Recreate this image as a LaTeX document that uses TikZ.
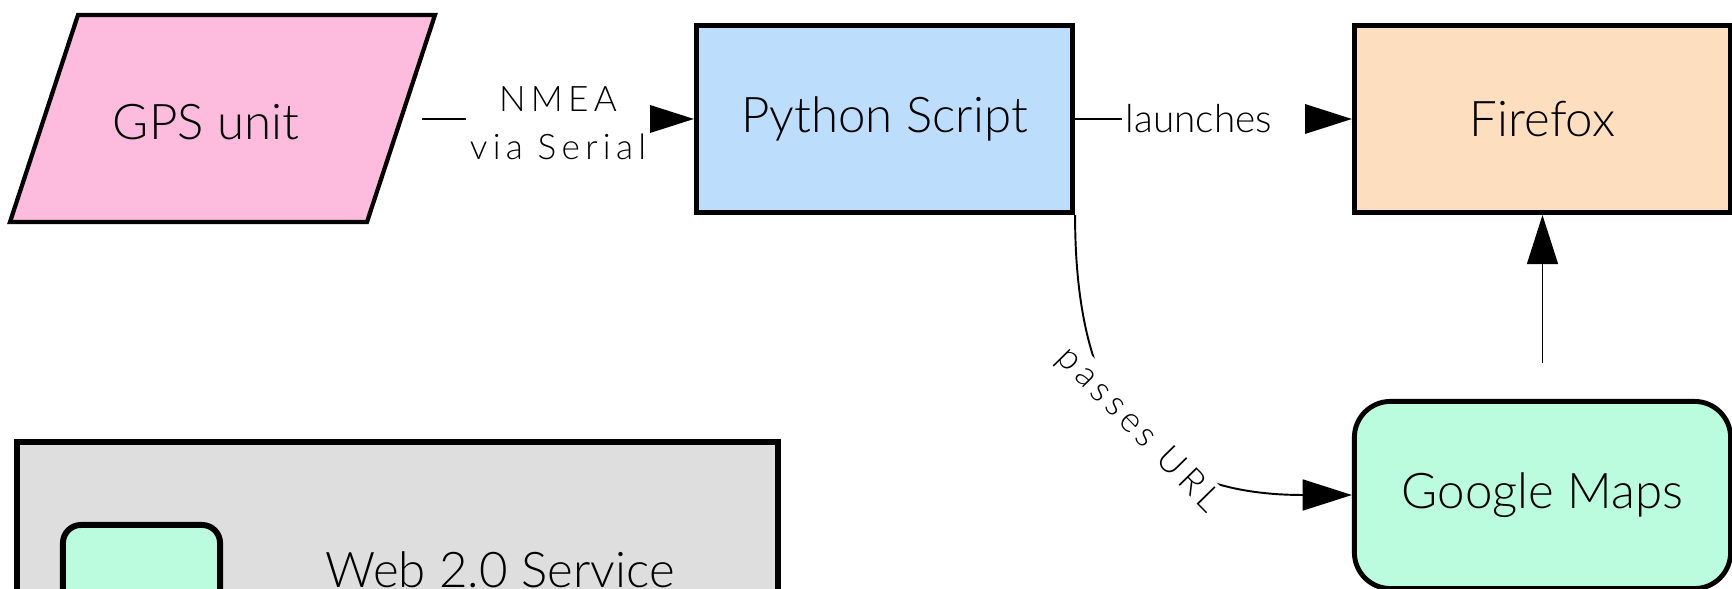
\documentclass[tikz,border=0pt]{standalone}
\usepackage{fontspec}
\setmainfont{Lato}[UprightFont=* Light]
\usetikzlibrary{arrows.meta}
\definecolor{gpspink}{RGB}{253,187,221}
\definecolor{pyblue}{RGB}{188,222,252}
\definecolor{foxpeach}{RGB}{253,222,190}
\definecolor{mapmint}{RGB}{188,252,222}
\definecolor{leggray}{RGB}{222,222,222}
\newcommand{\lblfont}{\fontsize{10}{13.7}\selectfont\addfontfeatures{LetterSpace=15}}

\begin{document}
\begin{tikzpicture}[x=0.01cm,y=0.01cm,font=\fontsize{14}{17}\selectfont,
  box/.style={draw,line width=1.4pt,minimum width=3.76cm,minimum height=1.87cm},
  flow/.style={line width=0.55pt,-{Triangle[length=14pt,width=8.8pt]}},
  lab/.style={fill=white,inner sep=1pt,font=\lblfont}]

\useasboundingbox (0,0) rectangle (1732,-589);
\clip (0,0) rectangle (1732,-589);

% Flusso
\begin{scope}
\draw[line width=1.2pt,fill=gpspink] (10,-222) -- (78,-15) -- (435,-15) -- (367,-222) -- cycle;
\node (gps) at (206,-122) {GPS unit};
\coordinate (gpsout) at (422,-119);
\node[box,fill=pyblue] (python) at (884.5,-119) {Python Script};
\node[box,fill=foxpeach] (firefox) at (1542.5,-119) {Firefox};
\node[box,fill=mapmint,rounded corners=0.36cm] (gmaps) at (1542.5,-495) {Google Maps};

\draw[flow] (gpsout) -- node[lab,align=center,yshift=-0.04cm] {NMEA\\via Serial} (python);
\draw[flow] (python) -- node[lab,font=\fontsize{11}{13}\selectfont,text width=1.75cm,align=left] {launches} (firefox);
\draw[flow] (python.south east) to[out=-90,in=180,looseness=1.3] node[lab,sloped] {passes URL} (gmaps.west);
\draw[flow,shorten <=0.36cm] (gmaps) -- (firefox);
\end{scope}

% Legenda
\begin{scope}
\draw[line width=1.7pt,fill=leggray] (17,-442) rectangle (778,-800);
\node[draw,line width=1.7pt,fill=mapmint,rounded corners=0.18cm,minimum width=1.57cm,minimum height=0.9cm] (legbox) at (141.5,-570) {};
\node[anchor=base] (legtext) at (500,-588) {Web 2.0 Service};
\end{scope}

\end{tikzpicture}
\end{document}
